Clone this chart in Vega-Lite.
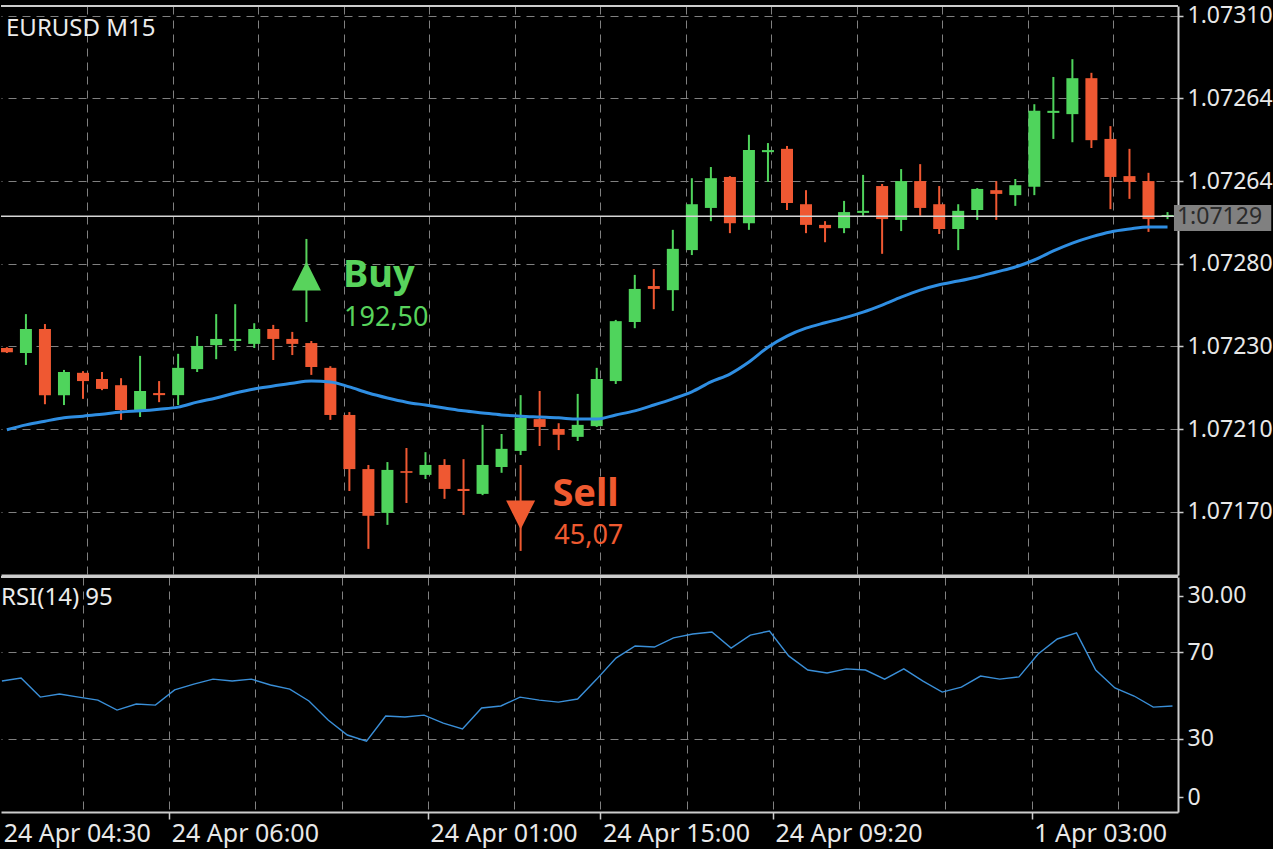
{
  "$schema": "https://vega.github.io/schema/vega-lite/v6.json",
  "background": "#000000",
  "padding": {"left": 0, "top": 4, "right": 0, "bottom": 3},
  "bounds": "flush",
  "spacing": 2,
  "config": {
    "view": {"stroke": null},
    "font": "Noto Sans",
    "axis": {"labelFont": "Noto Sans", "labelColor": "#e8e8e8", "labelFontSize": 23}
  },
  "datasets": {
    "candles": [
      {"i":1,"open":1.072296,"high":1.072298,"low":1.072284,"close":1.072286,"ma":1.072098,"rsi":56.6},
      {"i":2,"open":1.072284,"high":1.072378,"low":1.072255,"close":1.072342,"ma":1.072110,"rsi":58.0},
      {"i":3,"open":1.072342,"high":1.072354,"low":1.072160,"close":1.072182,"ma":1.072119,"rsi":49.2},
      {"i":4,"open":1.072182,"high":1.072243,"low":1.072158,"close":1.072238,"ma":1.072127,"rsi":50.6},
      {"i":5,"open":1.072236,"high":1.072240,"low":1.072173,"close":1.072216,"ma":1.072131,"rsi":49.2},
      {"i":6,"open":1.072221,"high":1.072238,"low":1.072194,"close":1.072197,"ma":1.072136,"rsi":47.8},
      {"i":7,"open":1.072206,"high":1.072223,"low":1.072122,"close":1.072146,"ma":1.072141,"rsi":43.2},
      {"i":8,"open":1.072146,"high":1.072277,"low":1.072129,"close":1.072192,"ma":1.072144,"rsi":46.0},
      {"i":9,"open":1.072187,"high":1.072216,"low":1.072165,"close":1.072182,"ma":1.072148,"rsi":45.5},
      {"i":10,"open":1.072182,"high":1.072282,"low":1.072158,"close":1.072248,"ma":1.072153,"rsi":52.5},
      {"i":11,"open":1.072245,"high":1.072325,"low":1.072238,"close":1.072301,"ma":1.072165,"rsi":55.2},
      {"i":12,"open":1.072303,"high":1.072378,"low":1.072269,"close":1.072318,"ma":1.072175,"rsi":57.5},
      {"i":13,"open":1.072313,"high":1.072402,"low":1.072289,"close":1.072318,"ma":1.072187,"rsi":56.6},
      {"i":14,"open":1.072306,"high":1.072356,"low":1.072296,"close":1.072342,"ma":1.072197,"rsi":57.5},
      {"i":15,"open":1.072342,"high":1.072352,"low":1.072267,"close":1.072318,"ma":1.072204,"rsi":54.8},
      {"i":16,"open":1.072318,"high":1.072335,"low":1.072279,"close":1.072306,"ma":1.072211,"rsi":52.9},
      {"i":17,"open":1.072308,"high":1.072313,"low":1.072231,"close":1.072250,"ma":1.072216,"rsi":47.4},
      {"i":18,"open":1.072248,"high":1.072252,"low":1.072122,"close":1.072134,"ma":1.072214,"rsi":38.6},
      {"i":19,"open":1.072134,"high":1.072141,"low":1.071950,"close":1.072003,"ma":1.072202,"rsi":31.7},
      {"i":20,"open":1.072003,"high":1.072013,"low":1.071810,"close":1.071890,"ma":1.072187,"rsi":28.9},
      {"i":21,"open":1.071897,"high":1.072020,"low":1.071868,"close":1.072001,"ma":1.072175,"rsi":40.5},
      {"i":22,"open":1.071998,"high":1.072054,"low":1.071921,"close":1.071994,"ma":1.072165,"rsi":40.0},
      {"i":23,"open":1.071989,"high":1.072044,"low":1.071979,"close":1.072013,"ma":1.072158,"rsi":40.9},
      {"i":24,"open":1.072013,"high":1.072027,"low":1.071931,"close":1.071955,"ma":1.072151,"rsi":37.2},
      {"i":25,"open":1.071955,"high":1.072027,"low":1.071892,"close":1.071950,"ma":1.072144,"rsi":34.5},
      {"i":26,"open":1.071943,"high":1.072110,"low":1.071940,"close":1.072013,"ma":1.072139,"rsi":44.2},
      {"i":27,"open":1.072008,"high":1.072088,"low":1.071994,"close":1.072052,"ma":1.072134,"rsi":45.1},
      {"i":28,"open":1.072047,"high":1.072182,"low":1.072037,"close":1.072127,"ma":1.072131,"rsi":49.2},
      {"i":29,"open":1.072124,"high":1.072192,"low":1.072059,"close":1.072105,"ma":1.072129,"rsi":47.8},
      {"i":30,"open":1.072100,"high":1.072114,"low":1.072049,"close":1.072086,"ma":1.072127,"rsi":46.9},
      {"i":31,"open":1.072081,"high":1.072185,"low":1.072071,"close":1.072110,"ma":1.072124,"rsi":48.3},
      {"i":32,"open":1.072107,"high":1.072248,"low":1.072105,"close":1.072221,"ma":1.072124,"rsi":57.5},
      {"i":33,"open":1.072216,"high":1.072364,"low":1.072209,"close":1.072361,"ma":1.072134,"rsi":67.2},
      {"i":34,"open":1.072359,"high":1.072473,"low":1.072344,"close":1.072439,"ma":1.072144,"rsi":72.8},
      {"i":35,"open":1.072446,"high":1.072487,"low":1.072390,"close":1.072439,"ma":1.072158,"rsi":72.3},
      {"i":36,"open":1.072436,"high":1.072582,"low":1.072386,"close":1.072536,"ma":1.072173,"rsi":76.5},
      {"i":37,"open":1.072533,"high":1.072707,"low":1.072521,"close":1.072644,"ma":1.072190,"rsi":78.3},
      {"i":38,"open":1.072635,"high":1.072734,"low":1.072603,"close":1.072707,"ma":1.072214,"rsi":79.2},
      {"i":39,"open":1.072710,"high":1.072712,"low":1.072574,"close":1.072598,"ma":1.072233,"rsi":71.8},
      {"i":40,"open":1.072598,"high":1.072812,"low":1.072582,"close":1.072775,"ma":1.072262,"rsi":77.8},
      {"i":41,"open":1.072770,"high":1.072792,"low":1.072698,"close":1.072775,"ma":1.072298,"rsi":79.7},
      {"i":42,"open":1.072778,"high":1.072785,"low":1.072630,"close":1.072647,"ma":1.072325,"rsi":68.2},
      {"i":43,"open":1.072644,"high":1.072678,"low":1.072574,"close":1.072594,"ma":1.072344,"rsi":61.7},
      {"i":44,"open":1.072594,"high":1.072603,"low":1.072552,"close":1.072586,"ma":1.072357,"rsi":60.3},
      {"i":45,"open":1.072586,"high":1.072652,"low":1.072574,"close":1.072625,"ma":1.072369,"rsi":62.2},
      {"i":46,"open":1.072623,"high":1.072715,"low":1.072616,"close":1.072628,"ma":1.072383,"rsi":61.7},
      {"i":47,"open":1.072688,"high":1.072693,"low":1.072524,"close":1.072608,"ma":1.072400,"rsi":57.5},
      {"i":48,"open":1.072606,"high":1.072729,"low":1.072579,"close":1.072700,"ma":1.072419,"rsi":62.2},
      {"i":49,"open":1.072700,"high":1.072741,"low":1.072616,"close":1.072635,"ma":1.072436,"rsi":56.6},
      {"i":50,"open":1.072644,"high":1.072688,"low":1.072572,"close":1.072584,"ma":1.072449,"rsi":51.5},
      {"i":51,"open":1.072584,"high":1.072644,"low":1.072533,"close":1.072628,"ma":1.072458,"rsi":53.8},
      {"i":52,"open":1.072630,"high":1.072683,"low":1.072606,"close":1.072681,"ma":1.072468,"rsi":58.9},
      {"i":53,"open":1.072678,"high":1.072700,"low":1.072606,"close":1.072669,"ma":1.072480,"rsi":57.5},
      {"i":54,"open":1.072666,"high":1.072705,"low":1.072640,"close":1.072690,"ma":1.072492,"rsi":58.5},
      {"i":55,"open":1.072686,"high":1.072886,"low":1.072666,"close":1.072870,"ma":1.072509,"rsi":69.1},
      {"i":56,"open":1.072865,"high":1.072952,"low":1.072802,"close":1.072870,"ma":1.072531,"rsi":76.0},
      {"i":57,"open":1.072862,"high":1.072995,"low":1.072794,"close":1.072949,"ma":1.072550,"rsi":78.8},
      {"i":58,"open":1.072949,"high":1.072962,"low":1.072780,"close":1.072799,"ma":1.072565,"rsi":61.7},
      {"i":59,"open":1.072802,"high":1.072833,"low":1.072632,"close":1.072710,"ma":1.072577,"rsi":53.4},
      {"i":60,"open":1.072712,"high":1.072778,"low":1.072657,"close":1.072698,"ma":1.072584,"rsi":49.7},
      {"i":61,"open":1.072700,"high":1.072720,"low":1.072577,"close":1.072608,"ma":1.072589,"rsi":44.6},
      {"i":62,"open":1.072613,"high":1.072625,"low":1.072608,"close":1.072618,"ma":1.072589,"rsi":45.1}
    ],
    "signals": [
      {"signal":"Buy","i":16.743,"shaftTop":1.072560,"shaftBottom":1.072359,"arrowY":1.072470,"textI":18.67,"textY":1.072444,"value":"192,50","valueI":18.72,"valueY":1.072349},
      {"signal":"Sell","i":28.0,"shaftTop":1.072013,"shaftBottom":1.071805,"arrowY":1.071892,"textI":29.67,"textY":1.071914,"value":"45,07","valueI":29.77,"valueY":1.071822}
    ]
  },
  "vconcat": [
    {
      "width": 1177,
      "height": 569,
      "layer": [
        {
          "data": {"name": "candles"},
          "mark": {"type": "rule", "strokeWidth": 2, "clip": true},
          "encoding": {
            "x": {"field": "i", "type": "quantitative", "title": null,
              "scale": {"domain": [0.9531, 62.288], "nice": false, "zero": false},
              "axis": {"orient": "bottom", "values": [5.226, 9.721, 14.215, 18.71, 23.204, 27.699, 32.193, 36.688, 41.182, 45.677, 50.171, 54.666, 59.16],
                "labels": false, "ticks": false, "grid": true, "gridDash": [8, 6], "gridColor": "#808080", "gridWidth": 1,
                "domain": true, "domainColor": "#cccccc", "domainWidth": 2, "title": null}},
            "y": {"field": "low", "type": "quantitative", "title": null,
              "scale": {"domain": [1.0717467, 1.0731237], "nice": false, "zero": false},
              "axis": {"orient": "right", "values": [1.0719, 1.0721, 1.0723, 1.0725, 1.0727, 1.0729, 1.0731],
                "labelExpr": "round(datum.value*100000) == 107190 ? '1.07170' : round(datum.value*100000) == 107250 ? '1.07280' : round(datum.value*100000) == 107270 ? '1.07264' : round(datum.value*100000) == 107290 ? '1.07264' : format(datum.value, '.5f')",
                "grid": true, "gridDash": [8, 6], "gridColor": "#808080", "gridWidth": 1,
                "ticks": true, "tickSize": 5, "tickColor": "#cccccc", "tickWidth": 1.5, "labelPadding": 4,
                "domain": true, "domainColor": "#cccccc", "domainWidth": 2,
                "labelFont": "Noto Sans", "labelFontSize": 23, "labelColor": "#e8e8e8", "title": null}},
            "y2": {"field": "high"},
            "color": {"condition": {"test": "datum.close >= datum.open", "value": "#4fd45c"}, "value": "#ef5832"}
          }
        },
        {
          "data": {"name": "candles"},
          "mark": {"type": "bar", "size": 12, "clip": true},
          "encoding": {
            "x": {"field": "i", "type": "quantitative", "title": null},
            "y": {"field": "open", "type": "quantitative", "title": null},
            "y2": {"field": "close"},
            "color": {"condition": {"test": "datum.close >= datum.open", "value": "#4fd45c"}, "value": "#ef5832"}
          }
        },
        {
          "data": {"name": "candles"},
          "mark": {"type": "line", "color": "#2f8ee2", "strokeWidth": 3, "interpolate": "monotone", "clip": true},
          "encoding": {
            "x": {"field": "i", "type": "quantitative", "title": null},
            "y": {"field": "ma", "type": "quantitative", "title": null}
          }
        },
        {
          "data": {"values": [{}]},
          "mark": {"type": "rule", "color": "#d6d6d6", "strokeWidth": 1.5},
          "encoding": {"y": {"datum": 1.072615}}
        },
        {
          "data": {"values": [{}]},
          "mark": {"type": "rule", "color": "#cccccc", "strokeWidth": 2},
          "encoding": {"y": {"datum": 1.0731237}}
        },
        {
          "data": {"name": "signals"},
          "mark": {"type": "rule", "strokeWidth": 2},
          "encoding": {
            "x": {"field": "i", "type": "quantitative", "title": null},
            "y": {"field": "shaftTop", "type": "quantitative", "title": null},
            "y2": {"field": "shaftBottom"},
            "color": {"field": "signal", "type": "nominal", "scale": {"domain": ["Buy", "Sell"], "range": ["#58d35c", "#ef5a30"]}, "legend": null}
          }
        },
        {
          "data": {"name": "signals"},
          "mark": {"type": "point", "filled": true, "opacity": 1, "size": 841},
          "encoding": {
            "x": {"field": "i", "type": "quantitative", "title": null},
            "y": {"field": "arrowY", "type": "quantitative", "title": null},
            "shape": {"field": "signal", "type": "nominal", "scale": {"domain": ["Buy", "Sell"], "range": ["M0,-1L1,1L-1,1Z", "M0,1L1,-1L-1,-1Z"]}, "legend": null},
            "color": {"field": "signal", "type": "nominal", "legend": null}
          }
        },
        {
          "data": {"name": "signals"},
          "mark": {"type": "text", "align": "left", "baseline": "alphabetic", "font": "Noto Sans", "fontSize": 38, "fontWeight": "bold"},
          "encoding": {
            "x": {"field": "textI", "type": "quantitative", "title": null},
            "y": {"field": "textY", "type": "quantitative", "title": null},
            "text": {"field": "signal"},
            "color": {"field": "signal", "type": "nominal", "legend": null}
          }
        },
        {
          "data": {"name": "signals"},
          "mark": {"type": "text", "align": "left", "baseline": "alphabetic", "font": "Noto Sans", "fontSize": 27},
          "encoding": {
            "x": {"field": "valueI", "type": "quantitative", "title": null},
            "y": {"field": "valueY", "type": "quantitative", "title": null},
            "text": {"field": "value"},
            "color": {"field": "signal", "type": "nominal", "legend": null}
          }
        },
        {
          "data": {"values": [{}]},
          "mark": {"type": "rect", "color": "#808080"},
          "encoding": {
            "x": {"datum": 62.339}, "x2": {"datum": 67.45},
            "y": {"datum": 1.072642}, "y2": {"datum": 1.072579}
          }
        },
        {
          "data": {"values": [{}]},
          "mark": {"type": "text", "align": "left", "baseline": "middle", "font": "Noto Sans", "fontSize": 23, "color": "#2b2b2b"},
          "encoding": {
            "x": {"datum": 62.496},
            "y": {"datum": 1.072612},
            "text": {"value": "1:07129"}
          }
        },
        {
          "data": {"values": [{}]},
          "mark": {"type": "text", "align": "left", "baseline": "alphabetic", "font": "Noto Sans", "fontSize": 24, "color": "#ececec"},
          "encoding": {
            "x": {"datum": 0.9531},
            "y": {"datum": 1.073051},
            "text": {"value": "EURUSD M15"}
          }
        }
      ]
    },
    {
      "width": 1177,
      "height": 235,
      "layer": [
        {
          "data": {"name": "candles"},
          "mark": {"type": "line", "color": "#3a8fd8", "strokeWidth": 1.4, "clip": true},
          "encoding": {
            "x": {"field": "i", "type": "quantitative", "title": null,
              "scale": {"domain": [0.9531, 62.288], "nice": false, "zero": false},
              "axis": {"orient": "bottom",
                "values": [0.96, 5.226, 9.721, 14.215, 18.71, 23.204, 27.699, 32.193, 36.688, 41.182, 45.677, 50.171, 54.666, 59.16],
                "labelExpr": "datum.value == 0.96 ? '24 Apr 04:30' : datum.value == 9.721 ? '24 Apr 06:00' : datum.value == 23.204 ? '24 Apr 01:00' : datum.value == 32.193 ? '24 Apr 15:00' : datum.value == 41.182 ? '24 Apr 09:20' : datum.value == 54.666 ? '1 Apr 03:00' : ''",
                "labelAlign": "left", "labelBaseline": "top", "labelPadding": 2, "labelOffset": 2,
                "labelFont": "Noto Sans", "labelFontSize": 25, "labelColor": "#e8e8e8",
                "labelOverlap": false, "labelFlush": false,
                "ticks": true, "tickSize": 7, "tickColor": "#cccccc", "tickWidth": 1.5,
                "tickOpacity": {"condition": {"test": "indexof([9.721, 23.204, 32.193, 41.182, 54.666], datum.value) >= 0", "value": 1}, "value": 0},
                "grid": true, "gridDash": [8, 6], "gridColor": "#808080", "gridWidth": 1,
                "gridOpacity": {"condition": {"test": "datum.value == 0.96", "value": 0}, "value": 1},
                "domain": true, "domainColor": "#cccccc", "domainWidth": 2, "title": null}},
            "y": {"field": "rsi", "type": "quantitative", "title": null,
              "scale": {"domain": [-3.8, 104.6], "nice": false, "zero": false},
              "axis": {"orient": "right", "values": [3, 30, 70, 96],
                "labelExpr": "datum.value == 96 ? '30.00' : datum.value == 3 ? '0' : format(datum.value, 'd')",
                "grid": true, "gridDash": [8, 6], "gridColor": "#808080", "gridWidth": 1,
                "gridOpacity": {"condition": {"test": "datum.value == 30 || datum.value == 70", "value": 1}, "value": 0},
                "ticks": true, "tickSize": 5, "tickColor": "#cccccc", "tickWidth": 1.5, "labelPadding": 4,
                "domain": true, "domainColor": "#cccccc", "domainWidth": 2,
                "labelFont": "Noto Sans", "labelFontSize": 23, "labelColor": "#e8e8e8", "title": null}}
          }
        },
        {
          "data": {"values": [{}]},
          "mark": {"type": "rule", "color": "#cccccc", "strokeWidth": 2},
          "encoding": {"y": {"datum": 104.6}}
        },
        {
          "data": {"values": [{}]},
          "mark": {"type": "text", "align": "left", "baseline": "alphabetic", "font": "Noto Sans", "fontSize": 24, "color": "#ececec"},
          "encoding": {
            "x": {"datum": 0.9531},
            "y": {"datum": 91.7},
            "text": {"value": "RSI(14) 95"}
          }
        }
      ]
    }
  ]
}
